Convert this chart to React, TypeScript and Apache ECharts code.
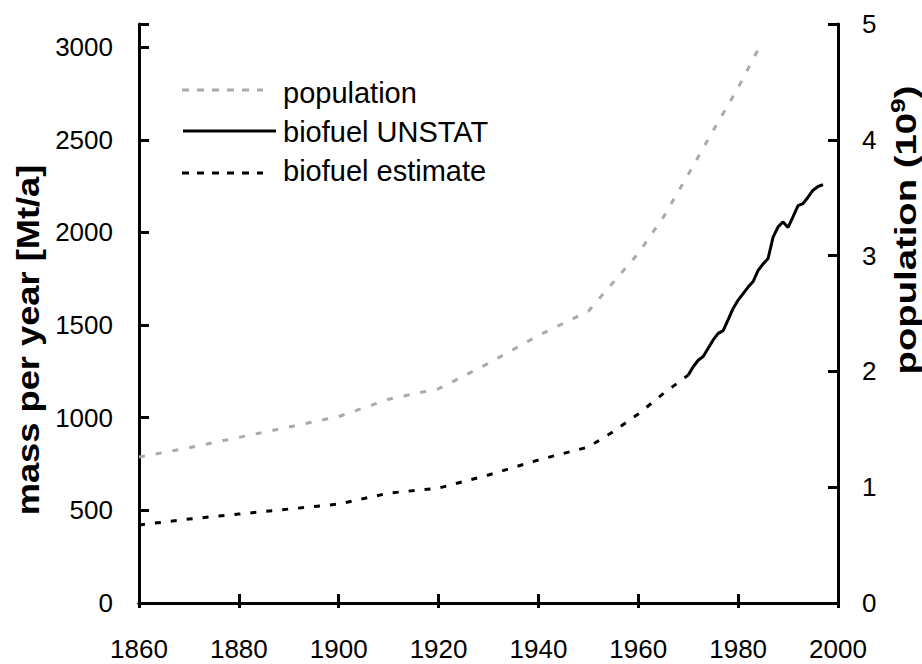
import React, { useEffect, useRef } from 'react';
import * as echarts from 'echarts';

const popYears = [1860, 1870, 1880, 1890, 1900, 1910, 1920, 1930, 1940, 1950, 1955, 1960, 1965, 1970, 1975, 1980, 1984];
const popValues = [1.26, 1.34, 1.43, 1.52, 1.61, 1.76, 1.85, 2.07, 2.31, 2.52, 2.77, 3.02, 3.33, 3.7, 4.08, 4.45, 4.78];

const estYears = [1860, 1870, 1880, 1890, 1900, 1910, 1920, 1930, 1940, 1950, 1955, 1960, 1965, 1970];
const estValues = [421, 453, 480, 507, 534, 593, 620, 691, 772, 842, 925, 1020, 1130, 1230];

const unstatYears = [1970, 1971, 1972, 1973, 1974, 1975, 1976, 1977, 1978, 1979, 1980, 1981, 1982, 1983, 1984, 1985, 1986, 1987, 1988, 1989, 1990, 1991, 1992, 1993, 1994, 1995, 1996, 1997];
const unstatValues = [1230, 1275, 1310, 1330, 1375, 1420, 1455, 1470, 1530, 1590, 1635, 1670, 1705, 1735, 1795, 1830, 1860, 1975, 2030, 2057, 2027, 2085, 2145, 2156, 2190, 2228, 2248, 2258];

const leftTicks = [0, 500, 1000, 1500, 2000, 2500, 3000];
const rightTicks = [0, 1, 2, 3, 4, 5];

const legendNames = ['population', 'biofuel UNSTAT', 'biofuel estimate'];

const FONT = 'Liberation Sans, Arial, sans-serif';
const GRAY = '#aaaaaa';

export default function App() {
  const ref = useRef<HTMLDivElement>(null);
  useEffect(() => {
    if (!ref.current) return;
    const chart = echarts.init(ref.current, undefined, { renderer: 'svg' });
    const zip = (xs: number[], ys: number[]) => xs.map((x, i) => [x, ys[i]]);
    const axisLineStyle = { color: '#000', width: 3 };
    const tickLabel = { fontSize: 26, color: '#000', fontFamily: FONT };
    chart.setOption({
      animation: false,
      backgroundColor: '#fff',
      grid: { left: 139, right: 84, top: 24, bottom: 61 },
      xAxis: [
        {
          type: 'value', min: 1860, max: 2000, interval: 20, position: 'bottom',
          axisLine: { lineStyle: axisLineStyle },
          axisTick: { inside: true, length: 9, lineStyle: axisLineStyle },
          axisLabel: { ...tickLabel, margin: 33, formatter: (v: number) => String(v) },
          splitLine: { show: false },
        },
        {
          type: 'value', min: 1860, max: 2000, interval: 20, position: 'top',
          axisLine: { lineStyle: axisLineStyle },
          axisTick: { inside: true, length: 5, lineStyle: axisLineStyle },
          axisLabel: { show: false },
          splitLine: { show: false },
        },
      ],
      yAxis: [
        {
          type: 'value', min: 0, max: 3125, interval: 500, position: 'left',
          axisLine: { show: true, lineStyle: axisLineStyle },
          axisTick: { show: true, inside: true, length: 10, lineStyle: axisLineStyle },
          axisLabel: {
            ...tickLabel, margin: 26,
            formatter: (v: number) => (leftTicks.includes(v) ? String(v) : ''),
          },
          splitLine: { show: false },
        },
        {
          type: 'value', min: 0, max: 5, interval: 1, position: 'right',
          axisLine: { show: true, lineStyle: axisLineStyle },
          axisTick: { show: true, inside: true, length: 10, lineStyle: axisLineStyle },
          axisLabel: {
            ...tickLabel, margin: 24,
            formatter: (v: number) => (rightTicks.includes(v) ? String(v) : ''),
          },
          splitLine: { show: false },
        },
      ],
      series: [
        {
          name: legendNames[0], type: 'line', yAxisIndex: 1, data: zip(popYears, popValues),
          showSymbol: false, lineStyle: { color: GRAY, width: 3, type: [6, 11] },
        },
        {
          name: legendNames[1], type: 'line', yAxisIndex: 0, data: zip(unstatYears, unstatValues),
          showSymbol: false, lineStyle: { color: '#000', width: 3, type: 'solid' },
        },
        {
          name: legendNames[2], type: 'line', yAxisIndex: 0, data: zip(estYears, estValues),
          showSymbol: false, lineStyle: { color: '#000', width: 3, type: [6, 10] },
        },
      ],
      graphic: [
        { type: 'line', shape: { x1: 182, y1: 90, x2: 263, y2: 90 }, style: { stroke: GRAY, lineWidth: 3, lineDash: [7, 8] } },
        { type: 'line', shape: { x1: 183, y1: 131, x2: 276, y2: 131 }, style: { stroke: '#000', lineWidth: 3 } },
        { type: 'line', shape: { x1: 182, y1: 173, x2: 263, y2: 173 }, style: { stroke: '#000', lineWidth: 3, lineDash: [7, 8] } },
        { type: 'text', x: 283, y: 93, style: { text: legendNames[0], fontSize: 29, fontFamily: FONT, fill: '#000', align: 'left', verticalAlign: 'middle' } },
        { type: 'text', x: 283, y: 132, style: { text: legendNames[1], fontSize: 29, fontFamily: FONT, fill: '#000', align: 'left', verticalAlign: 'middle' } },
        { type: 'text', x: 283, y: 171, style: { text: legendNames[2], fontSize: 29, fontFamily: FONT, fill: '#000', align: 'left', verticalAlign: 'middle' } },
        {
          type: 'text', x: 28, y: 340, rotation: Math.PI / 2, scaleX: 1.17,
          style: { text: 'mass per year [Mt/a]', fontSize: 31, fontWeight: 'bold', fontFamily: FONT, fill: '#000', align: 'center', verticalAlign: 'middle' },
        },
        {
          type: 'text', x: 906, y: 230, rotation: Math.PI / 2, scaleX: 1.32,
          style: {
            text: '{a|population (10}{s|9}{a|)}',
            align: 'center', verticalAlign: 'middle', fill: '#000',
            rich: {
              a: { fontSize: 29, fontWeight: 'bold', fontFamily: FONT, fill: '#000', lineHeight: 36 },
              s: { fontSize: 20, fontWeight: 'bold', fontFamily: FONT, fill: '#000', verticalAlign: 'top', lineHeight: 20 },
            },
          },
        },
      ],
    });
    return () => chart.dispose();
  }, []);
  return <div ref={ref} style={{ position: 'fixed', left: 0, top: 0, width: 922, height: 664 }} />;
}
